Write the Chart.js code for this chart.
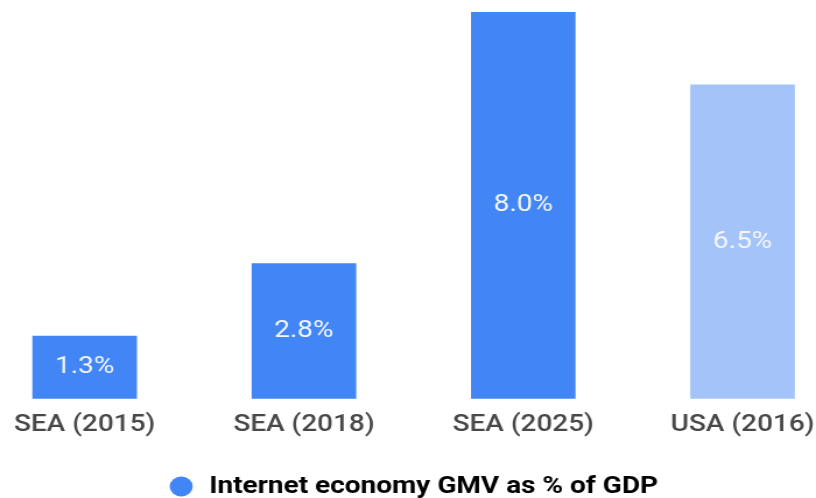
<!DOCTYPE html>
<html>
<head>
<meta charset="utf-8">
<script src="https://cdn.jsdelivr.net/npm/chart.js@4"></script>
<style>
  html, body { margin: 0; padding: 0; background: #fff; overflow: hidden; }
  /* the reference is stretched sideways, so the canvas is too */
  #chart { transform: scaleX(1.1657); transform-origin: 0 0; }
</style>
</head>
<body>
<canvas id="chart" width="712" height="498"></canvas>
<script>
const categories = ["SEA (2015)", "SEA (2018)", "SEA (2025)", "USA (2016)"];
const gmvShare = [1.3, 2.8, 8.0, 6.5];
const barColors = ["#4286f5", "#4286f5", "#4286f5", "#a4c3f9"];
const legendLabel = "Internet economy GMV as % of GDP";

// writes the value in the middle of each bar
const barLabels = {
    id: 'barLabels',
    afterDatasetsDraw(chart) {
        const ctx = chart.ctx;
        const meta = chart.getDatasetMeta(0);
        ctx.save();
        ctx.font = '400 24px Roboto';
        ctx.fillStyle = '#f4f7fe';
        ctx.textAlign = 'center';
        ctx.textBaseline = 'middle';
        meta.data.forEach((bar, i) => {
            const p = bar.getProps(['x', 'y', 'base'], true);
            ctx.fillText(gmvShare[i].toFixed(1) + '%', p.x, (p.y + p.base) / 2);
        });
        ctx.restore();
    }
};

new Chart(document.getElementById('chart'), {
    type: 'bar',
    data: {
        labels: categories,
        datasets: [{
            label: legendLabel,
            data: gmvShare,
            backgroundColor: barColors,
            categoryPercentage: 0.9,
            barPercentage: 0.53,
            clip: false,
        }]
    },
    options: {
        responsive: false,
        animation: false,
        layout: {
            padding: { top: 12, left: 71, right: 75, bottom: -10.5 }
        },
        scales: {
            x: {
                offset: false,
                grid: { display: false, drawTicks: false },
                border: { display: false },
                ticks: {
                    padding: 12,
                    color: '#484848',
                    font: { family: 'Roboto', size: 24, weight: '500' }
                }
            },
            y: {
                display: false,
                min: 0,
                max: 8,
            }
        },
        plugins: {
            legend: {
                position: 'bottom',
                labels: {
                    usePointStyle: true,
                    pointStyle: 'circle',
                    boxWidth: 24,
                    boxHeight: 14,
                    padding: 23,
                    color: '#4a4a4a',
                    generateLabels: () => [{
                        text: legendLabel,
                        fillStyle: '#4286f5',
                        strokeStyle: '#4286f5',
                        lineWidth: 0,
                        pointStyle: 'circle',
                    }],
                    font: { family: 'Roboto', size: 24, weight: 'bold' }
                }
            },
            tooltip: { enabled: false }
        }
    },
    plugins: [barLabels]
});
</script>
</body>
</html>
